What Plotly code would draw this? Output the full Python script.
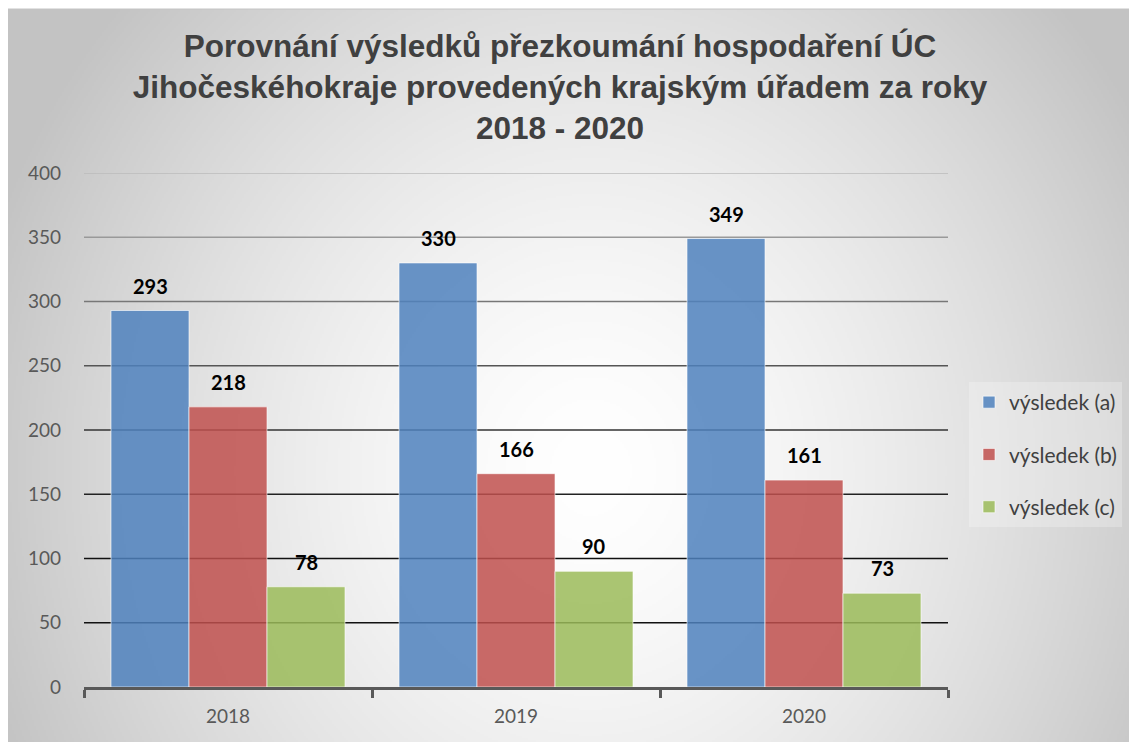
import base64
import struct
import zlib

import numpy as np
import plotly.graph_objects as go

# data
roky = ["2018", "2019", "2020"]
serie = ["výsledek (a)", "výsledek (b)", "výsledek (c)"]
vysledek_a = [293, 330, 349]
vysledek_b = [218, 166, 161]
vysledek_c = [78, 90, 73]
y_ticks = [0, 50, 100, 150, 200, 250, 300, 350, 400]

hodnoty = [vysledek_a, vysledek_b, vysledek_c]
barvy = ["rgba(79,129,189,0.85)", "rgba(192,80,77,0.85)", "rgba(155,187,89,0.85)"]
grid_barvy = ["#000000", "#111111", "#111111", "#222222", "#333333",
              "#555555", "#777777", "#999999", "#bbbbbb"]

# stranka ma okraj 8 px, souradnice nize jsou v pixelech obrazovky
OFF = 8
W, H = 1137 - OFF, 742 - OFF
PX0, PX1, PY0, PY1 = 84, 948, 173, 687
L, T = PX0 - OFF, PY0 - OFF
R, B = W - (PX1 - OFF), H - (PY1 - OFF)
PW, PH = PX1 - PX0, PY1 - PY0


def png_gray(arr):
    h, w = arr.shape
    raw = b"".join(b"\x00" + arr[i].tobytes() for i in range(h))

    def chunk(tag, data):
        c = struct.pack(">I", len(data)) + tag + data
        return c + struct.pack(">I", zlib.crc32(tag + data) & 0xffffffff)

    ihdr = struct.pack(">IIBBBBB", w, h, 8, 0, 0, 0, 0)
    return (b"\x89PNG\r\n\x1a\n" + chunk(b"IHDR", ihdr)
            + chunk(b"IDAT", zlib.compress(raw, 9)) + chunk(b"IEND", b""))


def px(x):
    return (x - PX0) / PW


def py(y):
    return (PY1 - y) / PH


# radialni prechod pozadi
gx0, gy0, gx1, gy1 = 7, 9, 1140, 745
xx, yy = np.meshgrid(np.arange(gx0, gx1, 2), np.arange(gy0, gy1, 2))
t = np.sqrt(((xx - 590) / 640.0) ** 2 + ((yy - 470) / 700.0) ** 2)
g = 255 - 60 * np.clip(t, 0, 1) ** 1.5
bg_src = "data:image/png;base64," + base64.b64encode(png_gray(g.astype(np.uint8))).decode()

fig = go.Figure()
for name, vals, col in zip(serie, hodnoty, barvy):
    fig.add_trace(go.Bar(
        x=roky, y=vals, name=name, legendgroup=name,
        marker=dict(color=col, line=dict(color="rgba(255,255,255,0.6)", width=1)),
    ))

# popisky hodnot
bar_w = PW / len(roky) * (1 - 0.1875) / 3
for i, vals in enumerate(hodnoty):
    for j, v in enumerate(vals):
        fig.add_annotation(x=j, y=v, text="<b>%d</b>" % v, showarrow=False,
                           xshift=(i - 1) * bar_w, yshift=25, yanchor="middle",
                           font=dict(family="Lato", size=20, color="#000000"))

# mrizka
for v, c in zip(y_ticks[1:], grid_barvy[1:]):
    fig.add_shape(type="line", xref="paper", yref="y", x0=0, x1=1, y0=v, y1=v,
                  line=dict(color=c, width=1.5), layer="below")

fig.add_shape(type="rect", xref="paper", yref="paper",
              x0=px(gx0), x1=px(1136), y0=py(760), y1=py(gy0),
              line=dict(color="#c4c4c4", width=1), layer="above")

fig.add_layout_image(dict(
    source=bg_src, xref="paper", yref="paper",
    x=px(gx0), y=py(gy0), sizex=(gx1 - gx0) / PW, sizey=(gy1 - gy0) / PH,
    xanchor="left", yanchor="top", sizing="stretch", layer="below",
))

fig.update_layout(
    width=W, height=H,
    margin=dict(l=L, r=R, t=T, b=B, autoexpand=False),
    paper_bgcolor="white", plot_bgcolor="rgba(0,0,0,0)",
    barmode="group", bargap=0.1875, bargroupgap=0,
    title=dict(
        text="Porovnání výsledků přezkoumání hospodaření ÚC<br>"
             "Jihočeskéhokraje provedených krajským úřadem za roky<br>2018 - 2020",
        x=(560 - OFF) / W, xanchor="center", xref="container",
        y=1 - (57 - OFF) / H, yanchor="middle", yref="container",
        font=dict(family="Liberation Sans", size=31.5, color="#404040", weight="bold"),
    ),
    legend=dict(
        x=px(969), xanchor="left", y=py(382), yanchor="top",
        bgcolor="rgba(255,255,255,0.25)", tracegroupgap=22,
        font=dict(family="Lato", size=21, color="#404040"),
    ),
    showlegend=True,
)
fig.update_xaxes(
    type="category", range=[-0.5, len(roky) - 0.5], showgrid=False,
    showline=True, linecolor="#595959", linewidth=3,
    ticks="outside", tickson="boundaries", ticklen=8, tickwidth=3, tickcolor="#595959",
    tickfont=dict(family="Lato", size=19, color="#595959"), ticklabelstandoff=10,
)
fig.update_yaxes(
    range=[0, 400], tickvals=y_ticks, showgrid=False, zeroline=False, showline=False,
    tickfont=dict(family="Lato", size=19, color="#595959"), ticklabelstandoff=22,
)

fig.write_html("out.html")
